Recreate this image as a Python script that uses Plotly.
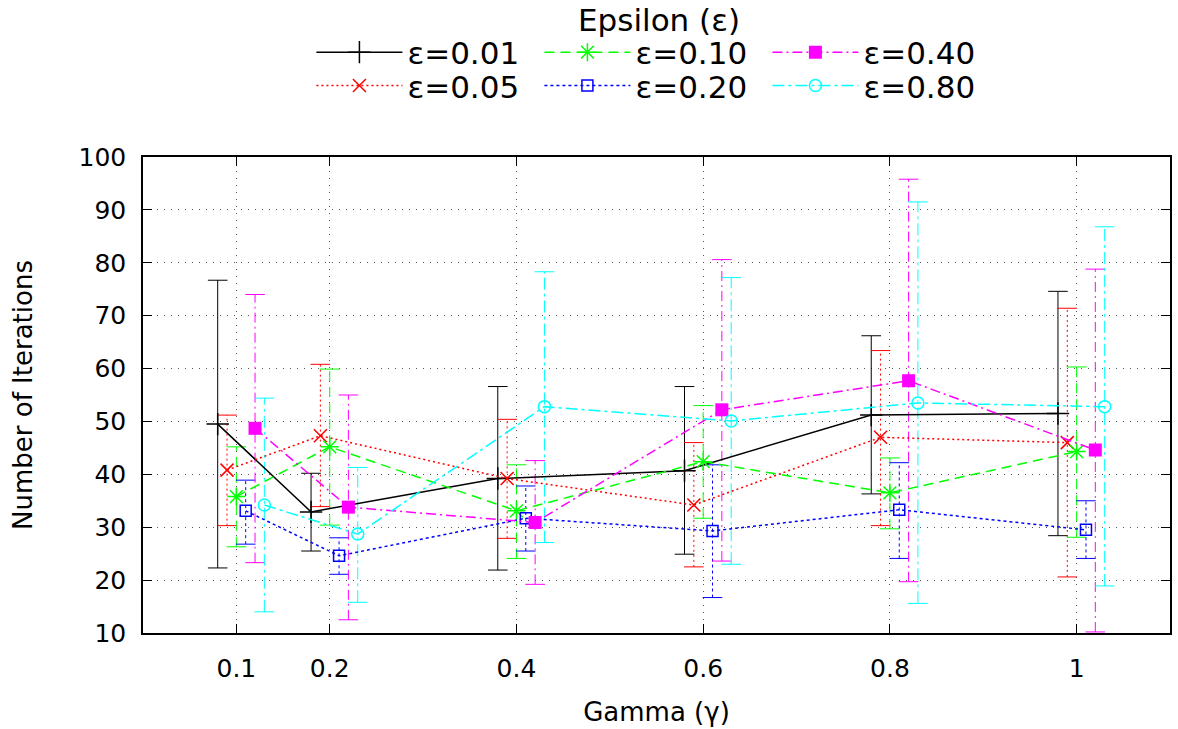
import plotly.graph_objects as go

gamma = [0.1, 0.2, 0.4, 0.6, 0.8, 1.0]
gamma_labels = ["0.1", "0.2", "0.4", "0.6", "0.8", "1"]

eps_labels = ["ε=0.01", "ε=0.05", "ε=0.10", "ε=0.20", "ε=0.40", "ε=0.80"]

mean_001 = [49.5, 32.9, 39.2, 40.7, 51.2, 51.5]
low_001 = [22.3, 25.5, 21.9, 24.9, 36.3, 28.4]
high_001 = [76.7, 40.2, 56.6, 56.6, 66.2, 74.6]

mean_005 = [40.8, 47.3, 39.2, 34.2, 47.0, 46.0]
low_005 = [30.3, 33.9, 27.9, 22.5, 30.3, 20.6]
high_005 = [51.2, 60.8, 50.4, 46.0, 63.4, 71.4]

mean_010 = [35.8, 45.2, 33.1, 42.4, 36.5, 44.3]
low_010 = [26.3, 30.4, 24.1, 31.7, 29.7, 28.1]
high_010 = [45.2, 59.9, 41.8, 53.0, 43.1, 60.3]

mean_020 = [33.1, 24.6, 31.7, 29.3, 33.3, 29.5]
low_020 = [26.8, 21.1, 25.5, 16.7, 24.1, 24.1]
high_020 = [38.9, 28.0, 37.8, 41.8, 42.2, 35.0]

mean_040 = [48.7, 33.8, 30.9, 52.2, 57.7, 44.6]
low_040 = [23.3, 12.5, 19.2, 23.6, 19.7, 10.2]
high_040 = [74.0, 55.0, 42.6, 80.6, 95.8, 78.8]

mean_080 = [34.2, 28.7, 52.8, 50.1, 53.5, 52.8]
low_080 = [14.0, 15.8, 27.1, 23.0, 15.6, 18.9]
high_080 = [54.4, 41.3, 78.3, 77.2, 91.5, 86.8]

series = [
    (eps_labels[0], mean_001, low_001, high_001),
    (eps_labels[1], mean_005, low_005, high_005),
    (eps_labels[2], mean_010, low_010, high_010),
    (eps_labels[3], mean_020, low_020, high_020),
    (eps_labels[4], mean_040, low_040, high_040),
    (eps_labels[5], mean_080, low_080, high_080),
]

# style per series: color, dash, symbol, size, horizontal offset, legend row / rank
styles = [
    dict(color="#000000", dash="solid", symbol="cross-thin", size=16, offset=-0.02, legend="legend", rank=1, ew=1.5),
    dict(color="#ff0000", dash="2px,3px", symbol="x-thin", size=13, offset=-0.01, legend="legend2", rank=1, ew=1.5),
    dict(color="#00ff00", dash="10px,6px", symbol="asterisk-open", size=15, offset=0.0, legend="legend", rank=2, ew=1.5),
    dict(color="#0000ff", dash="3px,3px", symbol="square-open", size=11, offset=0.01, legend="legend2", rank=2, ew=1.5),
    dict(color="#ff00ff", dash="10px,4px,2px,4px", symbol="square", size=13, offset=0.02, legend="legend", rank=3, ew=0),
    dict(color="#00ffff", dash="12px,4px,3px,4px", symbol="circle-open", size=12, offset=0.03, legend="legend2", rank=3, ew=1.5),
]

fig = go.Figure()

for (name, mean, low, high), st in zip(series, styles):
    xs = [g + st["offset"] for g in gamma]
    ex, ey = [], []
    for x, lo, hi in zip(xs, low, high):
        ex += [x, x, None]
        ey += [lo, hi, None]
    fig.add_trace(go.Scatter(
        x=ex, y=ey, mode="lines+markers", showlegend=False, hoverinfo="skip",
        line=dict(color=st["color"], width=1, dash=st["dash"]),
        marker=dict(symbol="line-ew", size=14, line=dict(color=st["color"], width=1)),
    ))

for (name, mean, low, high), st in zip(series, styles):
    xs = [g + st["offset"] for g in gamma]
    fig.add_trace(go.Scatter(
        x=xs, y=mean, mode="lines+markers", name=name,
        legend=st["legend"], legendrank=st["rank"],
        line=dict(color=st["color"], width=1.5, dash=st["dash"]),
        marker=dict(symbol=st["symbol"], size=st["size"], color=st["color"],
                    line=dict(color=st["color"], width=st["ew"])),
    ))

font = "DejaVu Sans"
legend_common = dict(
    orientation="h", x=0.497, xanchor="center", yanchor="middle",
    font=dict(size=31, family=font), entrywidth=127, itemwidth=86,
    bgcolor="rgba(0,0,0,0)", borderwidth=0,
)

fig.update_layout(
    width=1178, height=729,
    margin=dict(l=143, r=6, t=157, b=96),
    paper_bgcolor="white", plot_bgcolor="white",
    font=dict(family=font, size=25, color="black"),
    legend=dict(y=1.2195, **legend_common),
    legend2=dict(y=1.1495, **legend_common),
    annotations=[dict(
        text="Epsilon (ε)", xref="paper", yref="paper", x=0.502, y=1.2885,
        xanchor="center", yanchor="middle", showarrow=False,
        font=dict(size=31, family=font, color="black"),
    )],
    xaxis=dict(
        range=[0, 1.1], tickvals=gamma, ticktext=gamma_labels,
        showline=True, linecolor="black", linewidth=1.5, mirror="ticks",
        ticks="inside", ticklen=9, tickcolor="black",
        showgrid=True, gridcolor="#555555", griddash="1px,6px", gridwidth=1,
        zeroline=False, ticklabelstandoff=12,
        title=dict(text="Gamma (γ)", font=dict(size=26), standoff=21),
    ),
    yaxis=dict(
        range=[10, 100], tickvals=[10, 20, 30, 40, 50, 60, 70, 80, 90, 100],
        showline=True, linecolor="black", linewidth=1.5, mirror="ticks",
        ticks="inside", ticklen=9, tickcolor="black",
        showgrid=True, gridcolor="#555555", griddash="1px,6px", gridwidth=1,
        zeroline=False, ticklabelstandoff=10,
        title=dict(text="Number of Iterations", font=dict(size=26), standoff=38),
    ),
)

fig.write_html("out.html", config={"displayModeBar": False},
               post_script="document.body.style.margin='0';")
